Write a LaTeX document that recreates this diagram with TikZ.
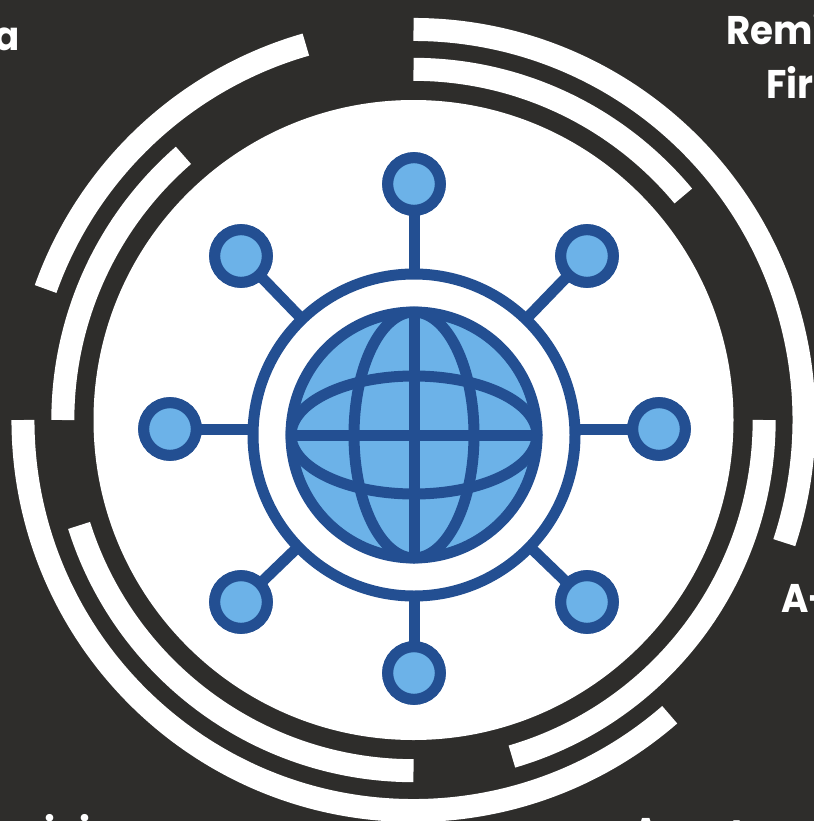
\documentclass[tikz,border=0pt]{standalone}
\usepackage{fontspec}
\usetikzlibrary{calc}
\setmainfont[FakeStretch=0.93]{Poppins}
\definecolor{bgc}{HTML}{2E2D2B}
\definecolor{globeblue}{HTML}{234F92}
\definecolor{skyfill}{HTML}{6CB2E8}
\tikzset{
  band/.style={draw=white,line width=17.25pt,line cap=butt},
  blueline/.style={draw=globeblue,line width=8.25pt},
  satnode/.style={circle,draw=globeblue,fill=skyfill,line width=8.25pt,minimum size=39.5pt,inner sep=0pt,outer sep=0pt},
  label/.style={text=white,font=\bfseries\fontsize{30pt}{36pt}\selectfont,inner sep=0pt,anchor=base west}
}
\begin{document}
\begin{tikzpicture}[x=0.75pt,y=-0.75pt]
\useasboundingbox (0,0) rectangle (814,821);
\clip (0,0) rectangle (814,821);
\fill[bgc] (0,0) rectangle (814,821);
% labels cut by the page edge
\node[label] (t1) at (726,44) {Remi};
\node[label] (t2) at (766,98) {Fir};
\node[label,anchor=base east] (t3) at (20,50) {a};
\node[label] (t4) at (781,612) {A-};
\node[label] (t5) at (44,846) {i};
\node[label] (t6) at (79,846) {i};
\node[label] (t7) at (632,846) {A};
\node[label] (t8) at (730,848) {t};
% white disc
\coordinate (c) at (413.5,420);
\fill[white] (c) circle[radius=240pt];
% outer ring, radius 390.5 px
\def\ro{292.9pt}
\def\ri{263.0pt}
\draw[band] (c) ++(90:\ro) arc[start angle=90,end angle=-18.3,radius=\ro];
\draw[band] (c) ++(106:\ro) arc[start angle=106,end angle=160.4,radius=\ro];
\draw[band] (c) ++(180:\ro) arc[start angle=180,end angle=311,radius=\ro];
% inner ring, radius 350.5 px
\draw[band] (c) ++(90:\ri) arc[start angle=90,end angle=39.7,radius=\ri];
\draw[band] (c) ++(131:\ri) arc[start angle=131,end angle=180,radius=\ri];
\draw[band] (c) ++(197.5:\ri) arc[start angle=197.5,end angle=270,radius=\ri];
\draw[band] (c) ++(0:\ri) arc[start angle=0,end angle=-73.7,radius=\ri];
% satellites and spokes
\coordinate (g) at (414,435);
\node[satnode] (s1) at (414,184) {};
\node[satnode] (s2) at (587,256) {};
\node[satnode] (s3) at (659,429) {};
\node[satnode] (s4) at (587,602) {};
\node[satnode] (s5) at (414,673) {};
\node[satnode] (s6) at (241,602) {};
\node[satnode] (s7) at (170,429) {};
\node[satnode] (s8) at (241,256) {};
\foreach \n in {s1,s2,s4,s5,s6,s8}{
  \draw[blueline] (\n) -- (g);
}
\draw[blueline] (s3) -- (s7);
\node[satnode] at (s1) {};
\node[satnode] at (s2) {};
\node[satnode] at (s3) {};
\node[satnode] at (s4) {};
\node[satnode] at (s5) {};
\node[satnode] at (s6) {};
\node[satnode] at (s7) {};
\node[satnode] at (s8) {};
% hub
\node[circle,minimum size=241.5pt,inner sep=0pt,outer sep=0pt,blueline,fill=white] (hub) at (g) {};
% globe
\fill[skyfill] (g) circle[radius=92.25pt];
\draw[blueline] (g) circle[radius=92.25pt];
\draw[blueline] (g) ellipse[x radius=45pt,y radius=92.25pt];
\draw[blueline] (g) ellipse[x radius=92.25pt,y radius=44.25pt];
\draw[blueline] ($(g)+(0,-92.25pt)$) -- ($(g)+(0,92.25pt)$);
\draw[blueline] ($(g)+(-92.25pt,0)$) -- ($(g)+(92.25pt,0)$);
\end{tikzpicture}
\end{document}
